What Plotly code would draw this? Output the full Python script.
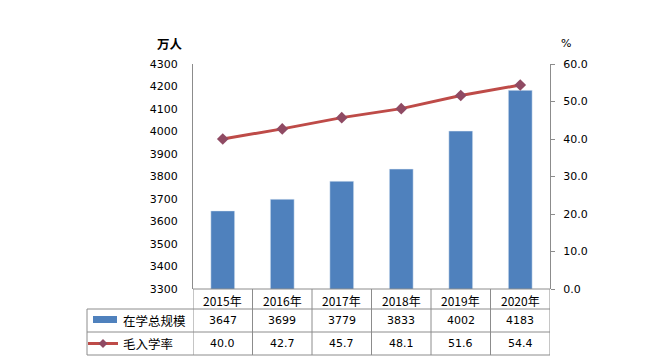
import plotly.graph_objects as go

years = ["2015年", "2016年", "2017年", "2018年", "2019年", "2020年"]
enrollment = [3647, 3699, 3779, 3833, 4002, 4183]
gross_rate = [40.0, 42.7, 45.7, 48.1, 51.6, 54.4]
enroll_labels = ["3647", "3699", "3779", "3833", "4002", "4183"]
rate_labels = ["40.0", "42.7", "45.7", "48.1", "51.6", "54.4"]
series_names = ["在学总规模", "毛入学率"]
left_ticks = list(range(3300, 4301, 100))
right_ticks = [0, 10, 20, 30, 40, 50, 60]

W, H = 672, 364
L, R, T, B = 193, 122, 64, 75
PW = W - L - R
PH = H - T - B

BAR = "#4F81BD"
LINE = "#BE4B48"
MARK = "#8F4A63"
GRID = "#8C8C8C"
NUMF = "DejaVu Sans"
CJK = "Noto Sans CJK SC"

def py(px):  # pixel y (from top) to paper y
    return (H - B - px) / PH

def pxx(px):
    return (px - L) / PW

fig = go.Figure()
fig.add_trace(go.Bar(x=list(range(len(years))), y=enrollment, marker_color=BAR,
                     width=0.4, name=series_names[0]))
fig.add_trace(go.Scatter(x=list(range(len(years))), y=gross_rate, yaxis="y2",
                         mode="lines+markers", name=series_names[1],
                         line=dict(color=LINE, width=3),
                         marker=dict(symbol="diamond", size=9, color=MARK)))

shapes = []
annotations = []
n = len(years)
y_top = H - B          # 289
row1 = y_top + 20      # 309
row2 = row1 + 23       # 332
row3 = row2 + 23       # 355
line_style = dict(color=GRID, width=1)

for i in range(n + 1):
    shapes.append(dict(type="line", xref="x", yref="paper", x0=i - 0.5, x1=i - 0.5,
                       y0=py(y_top), y1=py(row3), line=line_style))
shapes.append(dict(type="line", xref="paper", yref="paper", x0=pxx(87), x1=pxx(87),
                   y0=py(row1), y1=py(row3), line=line_style))
shapes.append(dict(type="line", xref="paper", yref="paper", x0=0, x1=1,
                   y0=py(y_top), y1=py(y_top), line=line_style))
for yy in (row1, row2, row3):
    shapes.append(dict(type="line", xref="paper", yref="paper", x0=pxx(87), x1=1,
                       y0=py(yy), y1=py(yy), line=line_style))

shapes.append(dict(type="rect", xref="paper", yref="paper", x0=pxx(93), x1=pxx(117),
                   y0=py(323), y1=py(316), fillcolor=BAR, line=dict(width=0)))
shapes.append(dict(type="line", xref="paper", yref="paper", x0=pxx(88), x1=pxx(118),
                   y0=py(343.5), y1=py(343.5), line=dict(color=LINE, width=3)))
cx, cy, r = 103, 343.5, 4.5
shapes.append(dict(type="path", xref="paper", yref="paper",
                   path=f"M {pxx(cx - r)} {py(cy)} L {pxx(cx)} {py(cy - r)} L {pxx(cx + r)} {py(cy)} L {pxx(cx)} {py(cy + r)} Z",
                   fillcolor=MARK, line=dict(width=0)))

def cell(text, x, xref, ypx, size=11, family=NUMF, xanchor="center"):
    annotations.append(dict(text=text, x=x, xref=xref, y=py(ypx), yref="paper",
                            showarrow=False, xanchor=xanchor, yanchor="middle",
                            font=dict(family=family, size=size, color="#000")))

for i in range(n):
    cell(years[i], i, "x", (y_top + row1) / 2 + 1, size=12, family=CJK)
    cell(enroll_labels[i], i, "x", (row1 + row2) / 2)
    cell(rate_labels[i], i, "x", (row2 + row3) / 2)

cell(series_names[0], pxx(121), "paper", (row1 + row2) / 2, size=12.5, family=CJK, xanchor="left")
cell(series_names[1], pxx(121), "paper", (row2 + row3) / 2, size=12.5, family=CJK, xanchor="left")

annotations.append(dict(text="<b>万人</b>", x=pxx(155), xref="paper", y=py(43), yref="paper",
                        showarrow=False, yanchor="middle",
                        font=dict(family=CJK, size=12.5, color="#000")))
annotations.append(dict(text="%", x=pxx(573), xref="paper", y=py(43), yref="paper",
                        showarrow=False, yanchor="middle",
                        font=dict(family=NUMF, size=11, color="#000")))

fig.update_layout(
    width=W, height=H,
    margin=dict(l=L, r=R, t=T, b=B, pad=0),
    paper_bgcolor="white", plot_bgcolor="white",
    showlegend=False,
    shapes=shapes, annotations=annotations,
    xaxis=dict(range=[-0.5, n - 0.5], showticklabels=False, showgrid=False,
               zeroline=False, showline=False, ticks=""),
    yaxis=dict(range=[3300, 4300], tickvals=left_ticks, showgrid=False, zeroline=False,
               showline=True, linecolor=GRID, linewidth=1, ticks="",
               ticklabelstandoff=12,
               tickfont=dict(family=NUMF, size=11, color="#000")),
    yaxis2=dict(range=[0, 60], overlaying="y", side="right", tickvals=right_ticks,
                tickformat=".1f", showgrid=False, zeroline=False,
                showline=True, linecolor=GRID, linewidth=1,
                ticks="outside", ticklen=4, tickcolor=GRID,
                ticklabelstandoff=6,
                tickfont=dict(family=NUMF, size=11, color="#000")),
)

fig.write_html("out.html", config={"displayModeBar": False},
               post_script="document.body.style.margin='0';")
